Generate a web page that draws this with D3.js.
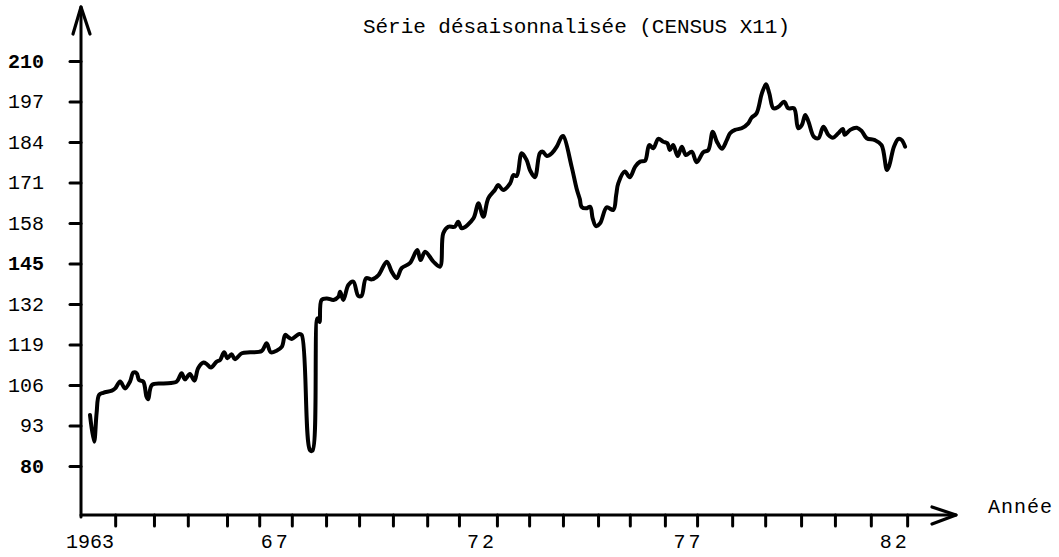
<!DOCTYPE html>
<html>
<head>
<meta charset="utf-8">
<script src="https://cdn.jsdelivr.net/npm/d3@7"></script>
<style>
  body { margin: 0; background: #fff; }
  svg { display: block; }
  text { font-family: "Liberation Mono", "DejaVu Sans Mono", monospace; fill: #000; }
</style>
</head>
<body>
<div id="chart"></div>
<script>
// seasonally adjusted series (decimal year, value)
const years = [
  1963.00, 1963.10, 1963.16, 1963.22, 1963.32, 1963.53, 1963.61, 1963.73, 1963.85, 1963.97,
  1964.05, 1964.13, 1964.19, 1964.29, 1964.37, 1964.41, 1964.50, 1964.78, 1965.10, 1965.22,
  1965.30, 1965.42, 1965.53, 1965.62, 1965.75, 1965.83, 1965.93, 1966.07, 1966.15, 1966.25,
  1966.33, 1966.43, 1966.51, 1966.68, 1966.88, 1967.16, 1967.28, 1967.38, 1967.52, 1967.65,
  1967.73, 1967.81, 1967.89, 1968.07, 1968.13, 1968.33, 1968.39, 1968.51, 1968.56, 1968.61,
  1968.74, 1968.90, 1969.02, 1969.06, 1969.14, 1969.26, 1969.38, 1969.50, 1969.58, 1969.69,
  1969.83, 1969.99, 1970.19, 1970.31, 1970.43, 1970.55, 1970.75, 1970.93, 1971.01, 1971.12,
  1971.32, 1971.48, 1971.56, 1971.68, 1971.84, 1971.92, 1972.01, 1972.29, 1972.41, 1972.53,
  1972.65, 1972.81, 1972.89, 1973.01, 1973.18, 1973.26, 1973.34, 1973.46, 1973.58, 1973.66,
  1973.78, 1973.90, 1973.97, 1974.07, 1974.19, 1974.31, 1974.43, 1974.47, 1974.67, 1974.79,
  1974.87, 1974.91, 1975.02, 1975.12, 1975.18, 1975.26, 1975.36, 1975.52, 1975.68, 1975.75,
  1975.80, 1975.96, 1976.08, 1976.21, 1976.33, 1976.45, 1976.55, 1976.65, 1976.77, 1976.89,
  1976.99, 1977.05, 1977.13, 1977.24, 1977.34, 1977.44, 1977.58, 1977.70, 1977.86, 1977.98,
  1978.09, 1978.19, 1978.31, 1978.43, 1978.51, 1978.63, 1978.79, 1978.95, 1979.03, 1979.15,
  1979.28, 1979.38, 1979.46, 1979.56, 1979.68, 1979.82, 1979.92, 1980.06, 1980.16, 1980.25,
  1980.33, 1980.41, 1980.54, 1980.65, 1980.77, 1980.89, 1981.00, 1981.13, 1981.24, 1981.29,
  1981.42, 1981.58, 1981.70, 1981.82, 1982.02, 1982.18, 1982.31, 1982.37, 1982.48, 1982.59,
  1982.67, 1982.75
];
const values = [
  96.4, 87.8, 97.0, 102.8, 103.5, 104.2, 104.9, 107.1, 104.9, 107.1,
  110.0, 109.8, 107.6, 107.1, 102.2, 101.4, 106.0, 106.5, 107.1, 109.8,
  107.8, 109.5, 107.4, 111.4, 113.2, 112.7, 111.6, 113.5, 114.0, 116.5,
  114.6, 115.9, 114.3, 116.2, 116.5, 116.9, 119.4, 116.5, 117.0, 118.3,
  122.1, 121.3, 120.8, 122.4, 122.1, 85.1, 84.9, 127.4, 126.2, 133.3,
  133.8, 133.3, 134.3, 135.9, 133.3, 138.1, 139.2, 134.6, 134.6, 140.3,
  139.9, 141.3, 145.6, 142.4, 140.3, 143.5, 145.1, 149.3, 146.1, 148.8,
  145.6, 144.0, 154.7, 156.8, 156.8, 158.4, 156.3, 159.5, 164.3, 160.0,
  165.9, 168.6, 170.2, 168.6, 170.7, 173.4, 173.1, 180.4, 178.2, 175.0,
  172.7, 180.4, 180.9, 179.5, 180.4, 182.5, 185.7, 185.9, 176.1, 169.1,
  165.6, 163.2, 162.7, 163.2, 159.5, 157.0, 157.9, 163.0, 162.2, 167.0,
  170.7, 174.5, 172.7, 176.1, 177.7, 178.0, 183.0, 182.0, 185.0, 184.1,
  183.6, 181.4, 183.0, 179.5, 182.5, 179.8, 180.9, 177.5, 180.7, 181.4,
  187.3, 184.1, 181.8, 184.6, 186.8, 187.9, 188.4, 190.0, 191.8, 193.2,
  199.6, 202.5, 199.6, 194.8, 195.3, 196.9, 194.8, 194.8, 188.4, 189.5,
  192.7, 190.5, 185.7, 185.2, 188.9, 186.3, 185.4, 186.8, 188.2, 186.3,
  187.9, 188.6, 187.5, 185.2, 184.6, 183.0, 175.0, 176.6, 182.5, 185.0,
  184.6, 182.5
];

const yTicks = [80, 93, 106, 119, 132, 145, 158, 171, 184, 197, 210];
const yBold = [80, 145, 210];
// small marks under the time axis, as placed in the picture
const xTickYears = [
  1963.61, 1964.55, 1965.37, 1966.32, 1967.10, 1967.89, 1968.72, 1969.52,
  1970.34, 1971.17, 1971.94, 1972.86, 1973.64, 1974.46, 1975.31, 1976.08,
  1976.93, 1977.71, 1978.56, 1979.36, 1980.23, 1981.05, 1981.92, 1982.80
];
const xLabelYears = [1963, 1967.5, 1972.5, 1977.5, 1982.5];
const xLabelText = ['1963', '67', '72', '77', '82'];

const title = 'Série désaisonnalisée (CENSUS X11)';
const xTitle = 'Année';

const width = 1059, height = 557;
const axisX = 81, axisY = 515;   // where the two axes meet
const yTop = 7, xRight = 956;    // arrow tips

const svg = d3.select('#chart').append('svg')
  .attr('width', width)
  .attr('height', height);

const x = d3.scaleLinear().domain([1963, 1983]).range([90, 915.4]);
const y = d3.scaleLinear().domain([80, 210]).range([466, 61]);

const ink = '#000';

// y axis with arrow
svg.append('line')
  .attr('x1', axisX).attr('y1', axisY + 2)
  .attr('x2', axisX).attr('y2', yTop)
  .attr('stroke', ink).attr('stroke-width', 3).attr('stroke-linecap', 'round');
svg.append('path')
  .attr('d', `M${axisX - 8},${yTop + 27} L${axisX},${yTop} L${axisX + 9},${yTop + 27}`)
  .attr('fill', 'none').attr('stroke', ink).attr('stroke-width', 3.2)
  .attr('stroke-linecap', 'round').attr('stroke-linejoin', 'round');

const yAxis = svg.append('g')
  .attr('transform', `translate(${axisX},0)`)
  .call(d3.axisLeft(y).tickValues(yTicks).tickSize(11).tickPadding(26).tickFormat(d3.format('d')));
yAxis.select('.domain').remove();
yAxis.selectAll('.tick line').attr('stroke', ink).attr('stroke-width', 3).attr('stroke-linecap', 'round');
yAxis.selectAll('.tick text')
  .attr('font-family', '"Liberation Mono", "DejaVu Sans Mono", monospace')
  .attr('font-size', 20)
  .attr('font-weight', d => yBold.includes(d) ? 700 : 400)
  .attr('fill', ink);

// x axis with arrow
svg.append('line')
  .attr('x1', axisX).attr('y1', axisY)
  .attr('x2', xRight).attr('y2', axisY)
  .attr('stroke', ink).attr('stroke-width', 3).attr('stroke-linecap', 'round');
svg.append('path')
  .attr('d', `M${xRight - 24},${axisY - 8} L${xRight},${axisY} L${xRight - 24},${axisY + 9}`)
  .attr('fill', 'none').attr('stroke', ink).attr('stroke-width', 3.2)
  .attr('stroke-linecap', 'round').attr('stroke-linejoin', 'round');

const xAxis = svg.append('g')
  .attr('transform', `translate(0,${axisY})`)
  .call(d3.axisBottom(x).tickValues(xTickYears).tickSize(11).tickFormat(''));
xAxis.select('.domain').remove();
xAxis.selectAll('.tick line').attr('stroke', ink).attr('stroke-width', 3).attr('stroke-linecap', 'round');

svg.append('g').selectAll('text')
  .data(xLabelYears)
  .join('text')
  .attr('x', d => x(d))
  .attr('y', 548)
  .attr('text-anchor', 'middle')
  .attr('font-size', 20)
  .attr('letter-spacing', (d, i) => i === 0 ? 0 : 3)
  .text((d, i) => xLabelText[i]);

svg.append('text')
  .attr('x', 988).attr('y', 513)
  .attr('font-size', 20)
  .attr('letter-spacing', 1)
  .text(xTitle);

svg.append('text')
  .attr('x', 363).attr('y', 33)
  .attr('font-size', 21)
  .attr('textLength', 427)
  .attr('lengthAdjust', 'spacing')
  .text(title);

// the series
const points = years.map((t, i) => [t, values[i]]);
const line = d3.line()
  .x(d => x(d[0]))
  .y(d => y(d[1]))
  .curve(d3.curveCatmullRom.alpha(0.5));

svg.append('path')
  .datum(points)
  .attr('d', line)
  .attr('fill', 'none')
  .attr('stroke', ink)
  .attr('stroke-width', 4)
  .attr('stroke-linejoin', 'round')
  .attr('stroke-linecap', 'round');
</script>
</body>
</html>
